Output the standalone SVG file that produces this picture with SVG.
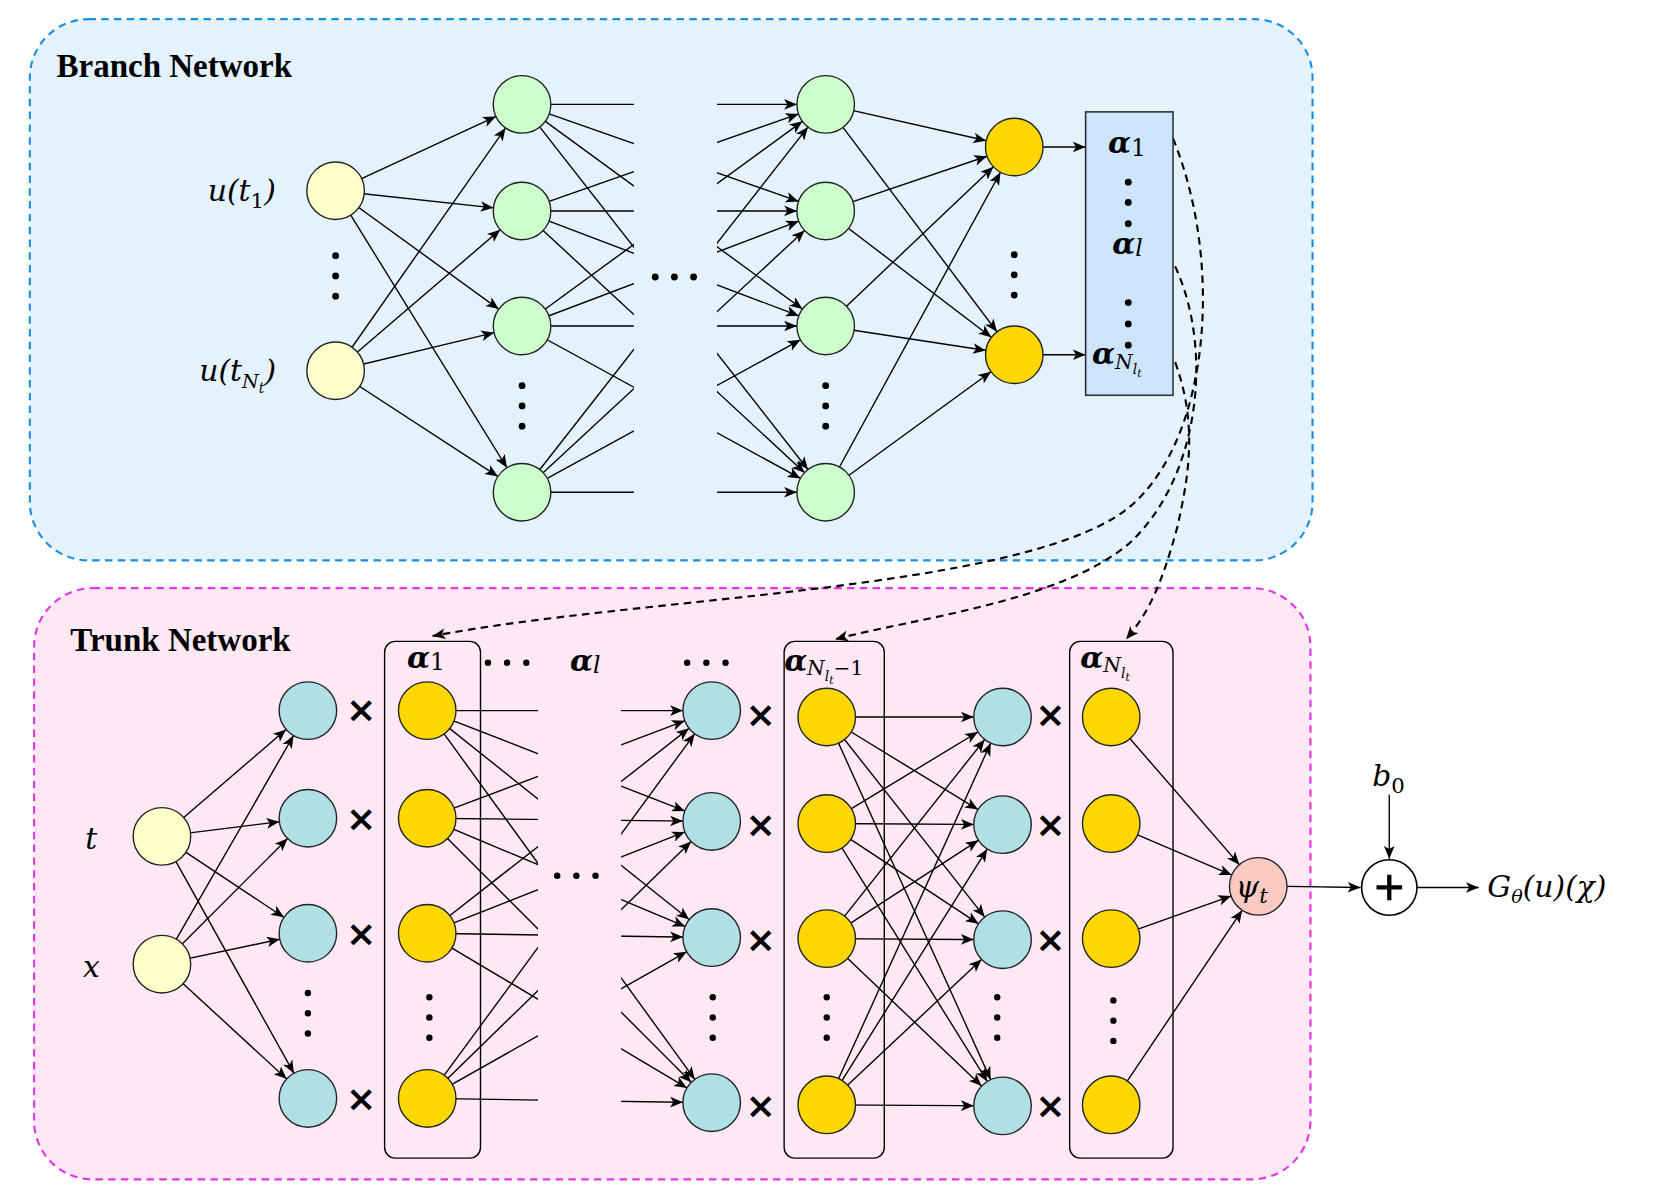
<svg xmlns="http://www.w3.org/2000/svg" width="1662" height="1194" viewBox="0 0 1662 1194">
<style>
.c{stroke:#222;stroke-width:1.3}
.e line{stroke:#000;stroke-width:1.3;marker-end:url(#ah)}
.p line{stroke:#000;stroke-width:1.3}
.y{fill:#ffffcc}.g{fill:#ccffcc}.o{fill:#ffd700}.b{fill:#b0e0e6}
.m{font-family:"DejaVu Serif","Liberation Serif",serif;font-style:italic;font-size:28px}
.a{font-family:"DejaVu Serif","Liberation Serif",serif;font-style:italic;font-weight:bold;font-size:28px}
.t{font-family:"Liberation Serif",serif;font-weight:bold;font-size:31px}
.x{font-family:"DejaVu Sans",sans-serif;font-weight:bold;font-size:34px;text-anchor:middle}
.d{fill:#000}
</style>
<defs>
<marker id="ah" markerUnits="userSpaceOnUse" markerWidth="60" markerHeight="20" orient="auto" refX="0" refY="0" viewBox="-45 -10 60 20" overflow="visible"><path d="M-39,-5 L-27,0 L-39,5 L-36,0 z" fill="#000"/></marker>
<marker id="ah0" markerUnits="userSpaceOnUse" markerWidth="20" markerHeight="20" orient="auto" refX="0" refY="0" viewBox="-15 -10 20 20" overflow="visible"><path d="M-12,-5 L0,0 L-12,5 L-9,0 z" fill="#000"/></marker>
<clipPath id="cb" clipPathUnits="userSpaceOnUse"><rect x="0" y="0" width="595" height="600"/><rect x="673" y="0" width="300" height="600"/></clipPath>
<clipPath id="ct" clipPathUnits="userSpaceOnUse"><rect x="300" y="600" width="205" height="500"/><rect x="583" y="600" width="200" height="500"/></clipPath>
</defs>
<g transform="scale(1.0654)">
<g id="branch-bg"><rect x="28" y="18" width="1204" height="508" rx="55" fill="#e3f2fd" stroke="#1a8fe3" stroke-width="2" stroke-dasharray="7,5"/><text class="t" x="53" y="72">Branch Network</text></g>
<g id="trunk-bg"><rect x="32" y="552" width="1198" height="555" rx="55" fill="#fde8f4" stroke="#e535e5" stroke-width="2" stroke-dasharray="7,5"/><text class="t" x="66" y="611">Trunk Network</text></g>
<g id="connectors">
<g class="e">
<line x1="315" y1="179" x2="490" y2="98"/><line x1="315" y1="179" x2="490" y2="198"/><line x1="315" y1="179" x2="490" y2="306"/><line x1="315" y1="179" x2="490" y2="462"/>
<line x1="315" y1="348" x2="490" y2="98"/><line x1="315" y1="348" x2="490" y2="198"/><line x1="315" y1="348" x2="490" y2="306"/><line x1="315" y1="348" x2="490" y2="462"/>
</g>
<g class="e" clip-path="url(#cb)">
<line x1="490" y1="98" x2="775" y2="98"/><line x1="490" y1="98" x2="775" y2="198"/><line x1="490" y1="98" x2="775" y2="306"/><line x1="490" y1="98" x2="775" y2="462"/>
<line x1="490" y1="198" x2="775" y2="98"/><line x1="490" y1="198" x2="775" y2="198"/><line x1="490" y1="198" x2="775" y2="306"/><line x1="490" y1="198" x2="775" y2="462"/>
<line x1="490" y1="306" x2="775" y2="98"/><line x1="490" y1="306" x2="775" y2="198"/><line x1="490" y1="306" x2="775" y2="306"/><line x1="490" y1="306" x2="775" y2="462"/>
<line x1="490" y1="462" x2="775" y2="98"/><line x1="490" y1="462" x2="775" y2="198"/><line x1="490" y1="462" x2="775" y2="306"/><line x1="490" y1="462" x2="775" y2="462"/>
</g>
<g class="e">
<line x1="775" y1="98" x2="952" y2="138"/><line x1="775" y1="198" x2="952" y2="138"/><line x1="775" y1="306" x2="952" y2="138"/><line x1="775" y1="462" x2="952" y2="138"/>
<line x1="775" y1="98" x2="952" y2="333"/><line x1="775" y1="198" x2="952" y2="333"/><line x1="775" y1="306" x2="952" y2="333"/><line x1="775" y1="462" x2="952" y2="333"/>
</g>
<line x1="979" y1="138" x2="1019" y2="138" stroke="#000" stroke-width="1.3" marker-end="url(#ah0)"/>
<line x1="979" y1="333" x2="1019" y2="333" stroke="#000" stroke-width="1.3" marker-end="url(#ah0)"/>
<g class="e">
<line x1="152" y1="785" x2="289" y2="667"/><line x1="152" y1="785" x2="289" y2="768"/><line x1="152" y1="785" x2="289" y2="876"/><line x1="152" y1="785" x2="289" y2="1031"/>
<line x1="152" y1="905" x2="289" y2="667"/><line x1="152" y1="905" x2="289" y2="768"/><line x1="152" y1="905" x2="289" y2="876"/><line x1="152" y1="905" x2="289" y2="1031"/>
</g>
<g class="e" clip-path="url(#ct)">
<line x1="401" y1="667" x2="668" y2="667"/><line x1="401" y1="667" x2="668" y2="771"/><line x1="401" y1="667" x2="668" y2="880"/><line x1="401" y1="667" x2="668" y2="1035"/>
<line x1="401" y1="768" x2="668" y2="667"/><line x1="401" y1="768" x2="668" y2="771"/><line x1="401" y1="768" x2="668" y2="880"/><line x1="401" y1="768" x2="668" y2="1035"/>
<line x1="401" y1="876" x2="668" y2="667"/><line x1="401" y1="876" x2="668" y2="771"/><line x1="401" y1="876" x2="668" y2="880"/><line x1="401" y1="876" x2="668" y2="1035"/>
<line x1="401" y1="1031" x2="668" y2="667"/><line x1="401" y1="1031" x2="668" y2="771"/><line x1="401" y1="1031" x2="668" y2="880"/><line x1="401" y1="1031" x2="668" y2="1035"/>
</g>
<g class="e">
<line x1="776" y1="673" x2="941" y2="673"/><line x1="776" y1="673" x2="941" y2="774"/><line x1="776" y1="673" x2="941" y2="882"/><line x1="776" y1="673" x2="941" y2="1038"/>
<line x1="776" y1="773" x2="941" y2="673"/><line x1="776" y1="773" x2="941" y2="774"/><line x1="776" y1="773" x2="941" y2="882"/><line x1="776" y1="773" x2="941" y2="1038"/>
<line x1="776" y1="881" x2="941" y2="673"/><line x1="776" y1="881" x2="941" y2="774"/><line x1="776" y1="881" x2="941" y2="882"/><line x1="776" y1="881" x2="941" y2="1038"/>
<line x1="776" y1="1037" x2="941" y2="673"/><line x1="776" y1="1037" x2="941" y2="774"/><line x1="776" y1="1037" x2="941" y2="882"/><line x1="776" y1="1037" x2="941" y2="1038"/>
<line x1="1043" y1="673" x2="1181" y2="832"/><line x1="1043" y1="773" x2="1181" y2="832"/><line x1="1043" y1="881" x2="1181" y2="832"/><line x1="1043" y1="1037" x2="1181" y2="832"/>
</g>
<line x1="1208" y1="832" x2="1277" y2="833" stroke="#000" stroke-width="1.3" marker-end="url(#ah0)"/>
<line x1="1330" y1="833" x2="1388" y2="833" stroke="#000" stroke-width="1.3" marker-end="url(#ah0)"/>
<line x1="1304" y1="746" x2="1304" y2="806" stroke="#000" stroke-width="1.3" marker-end="url(#ah0)"/>
<g fill="none" stroke="#000" stroke-width="2" stroke-dasharray="7,5" marker-end="url(#ah0)">
<path d="M1101,130 C1150,250 1135,420 1055,480 C950,555 600,560 406,597"/>
<path d="M1103,250 C1140,330 1125,450 1060,510 C995,565 860,580 784,600"/>
<path d="M1103,340 C1125,400 1115,450 1105,495 C1090,550 1078,575 1057,600"/>
</g>
</g>
<g id="branch-nodes">
<g id="u1"><circle class="c y" cx="315" cy="179" r="27"/><text class="m" x="195" y="189">u(t<tspan font-size="20" font-style="normal" dy="6">1</tspan><tspan dy="-6">)</tspan></text></g>
<g id="uN"><circle class="c y" cx="315" cy="348" r="27"/><text class="m" x="187" y="358">u(t<tspan font-size="18" dy="6">N</tspan><tspan font-size="13" dy="5">t</tspan><tspan dy="-11">)</tspan></text></g>
<g id="b1"><circle class="c g" cx="490" cy="98" r="27"/><circle class="c g" cx="490" cy="198" r="27"/><circle class="c g" cx="490" cy="306" r="27"/><circle class="c g" cx="490" cy="462" r="27"/></g>
<g id="b2"><circle class="c g" cx="775" cy="98" r="27"/><circle class="c g" cx="775" cy="198" r="27"/><circle class="c g" cx="775" cy="306" r="27"/><circle class="c g" cx="775" cy="462" r="27"/></g>
<g id="bo"><circle class="c o" cx="952" cy="138" r="27"/><circle class="c o" cx="952" cy="333" r="27"/></g>
<g id="alpha-box"><rect x="1019" y="105" width="82" height="266" fill="#cce5fc" stroke="#333" stroke-width="1.5"/>
<text class="a" x="1040" y="144">α<tspan font-weight="normal" font-style="normal" font-size="22" dy="2">1</tspan></text>
<text class="a" x="1044" y="238">α<tspan font-weight="normal" font-size="22" dy="2">l</tspan></text>
<text class="a" x="1025" y="342">α<tspan font-weight="normal" font-size="19" dy="4">N</tspan><tspan font-weight="normal" font-size="13" dy="5">l</tspan><tspan font-weight="normal" font-size="10" dy="3">t</tspan></text>
<g class="d"><circle cx="1059" cy="171" r="3.2"/><circle cx="1059" cy="190" r="3.2"/><circle cx="1059" cy="210" r="3.2"/><circle cx="1059" cy="284" r="3.2"/><circle cx="1059" cy="304" r="3.2"/><circle cx="1059" cy="324" r="3.2"/></g></g>
<g class="d"><circle cx="315" cy="240" r="3.2"/><circle cx="315" cy="259" r="3.2"/><circle cx="315" cy="278" r="3.2"/>
<circle cx="490" cy="362" r="3.2"/><circle cx="490" cy="381" r="3.2"/><circle cx="490" cy="400" r="3.2"/>
<circle cx="775" cy="362" r="3.2"/><circle cx="775" cy="381" r="3.2"/><circle cx="775" cy="400" r="3.2"/>
<circle cx="952" cy="239" r="3.2"/><circle cx="952" cy="258" r="3.2"/><circle cx="952" cy="277" r="3.2"/>
<circle cx="615" cy="260" r="3.2"/><circle cx="633" cy="260" r="3.2"/><circle cx="651" cy="260" r="3.2"/></g>
</g>
<g id="trunk-nodes">
<g id="tin"><circle class="c y" cx="152" cy="785" r="27"/><circle class="c y" cx="152" cy="905" r="27"/><text class="m" x="80" y="797">t</text><text class="m" x="78" y="917">x</text></g>
<g id="boxes" fill="none" stroke="#000" stroke-width="1.3"><rect x="361" y="602" width="90" height="485" rx="10"/><rect x="736" y="602" width="94" height="485" rx="10"/><rect x="1004" y="602" width="97" height="485" rx="10"/></g>
<g id="A"><circle class="c b" cx="289" cy="667" r="27"/><circle class="c b" cx="289" cy="768" r="27"/><circle class="c b" cx="289" cy="876" r="27"/><circle class="c b" cx="289" cy="1031" r="27"/></g>
<g id="OA"><circle class="c o" cx="401" cy="667" r="27"/><circle class="c o" cx="401" cy="768" r="27"/><circle class="c o" cx="401" cy="876" r="27"/><circle class="c o" cx="401" cy="1031" r="27"/></g>
<g id="B"><circle class="c b" cx="668" cy="667" r="27"/><circle class="c b" cx="668" cy="771" r="27"/><circle class="c b" cx="668" cy="880" r="27"/><circle class="c b" cx="668" cy="1035" r="27"/></g>
<g id="OB"><circle class="c o" cx="776" cy="673" r="27"/><circle class="c o" cx="776" cy="773" r="27"/><circle class="c o" cx="776" cy="881" r="27"/><circle class="c o" cx="776" cy="1037" r="27"/></g>
<g id="C"><circle class="c b" cx="941" cy="673" r="27"/><circle class="c b" cx="941" cy="774" r="27"/><circle class="c b" cx="941" cy="882" r="27"/><circle class="c b" cx="941" cy="1038" r="27"/></g>
<g id="OC"><circle class="c o" cx="1043" cy="673" r="27"/><circle class="c o" cx="1043" cy="773" r="27"/><circle class="c o" cx="1043" cy="881" r="27"/><circle class="c o" cx="1043" cy="1037" r="27"/></g>
<g id="times" class="x"><text x="339" y="678">×</text><text x="339" y="780">×</text><text x="339" y="888">×</text><text x="339" y="1043">×</text>
<text x="714" y="682">×</text><text x="714" y="786">×</text><text x="714" y="894">×</text><text x="714" y="1049">×</text>
<text x="986" y="682">×</text><text x="986" y="786">×</text><text x="986" y="894">×</text><text x="986" y="1049">×</text></g>
<text class="a" x="382" y="627">α<tspan font-weight="normal" font-style="normal" font-size="22" dy="2">1</tspan></text>
<text class="a" x="535" y="630">α<tspan font-weight="normal" font-size="22" dy="2">l</tspan></text>
<text class="a" x="736" y="630">α<tspan font-weight="normal" font-size="19" dy="4">N</tspan><tspan font-weight="normal" font-size="13" dy="5">l</tspan><tspan font-weight="normal" font-size="10" dy="3">t</tspan><tspan font-weight="normal" font-style="normal" font-size="19" dy="-8">−1</tspan></text>
<text class="a" x="1014" y="627">α<tspan font-weight="normal" font-size="19" dy="4">N</tspan><tspan font-weight="normal" font-size="13" dy="5">l</tspan><tspan font-weight="normal" font-size="10" dy="3">t</tspan></text>
<g class="d"><circle cx="458" cy="622" r="3"/><circle cx="476" cy="622" r="3"/><circle cx="494" cy="622" r="3"/>
<circle cx="645" cy="622" r="3"/><circle cx="663" cy="622" r="3"/><circle cx="681" cy="622" r="3"/>
<circle cx="523" cy="822" r="3"/><circle cx="541" cy="822" r="3"/><circle cx="559" cy="822" r="3"/>
<circle cx="289" cy="932" r="3"/><circle cx="289" cy="951" r="3"/><circle cx="289" cy="970" r="3"/>
<circle cx="403" cy="936" r="3"/><circle cx="403" cy="955" r="3"/><circle cx="403" cy="974" r="3"/>
<circle cx="669" cy="936" r="3"/><circle cx="669" cy="955" r="3"/><circle cx="669" cy="974" r="3"/>
<circle cx="776" cy="936" r="3"/><circle cx="776" cy="955" r="3"/><circle cx="776" cy="974" r="3"/>
<circle cx="936" cy="936" r="3"/><circle cx="936" cy="955" r="3"/><circle cx="936" cy="974" r="3"/>
<circle cx="1045" cy="939" r="3"/><circle cx="1045" cy="958" r="3"/><circle cx="1045" cy="977" r="3"/></g>
<g id="psi"><circle cx="1181" cy="832" r="27" fill="#f9c9c2" stroke="#222" stroke-width="1.3"/><text class="m" x="1160" y="842">ψ<tspan font-size="20" dy="6">t</tspan></text></g>
<g id="plus"><circle cx="1304" cy="833" r="26" fill="#fff" stroke="#000" stroke-width="1.5"/><path d="M1292,833 H1316 M1304,821 V845" stroke="#000" stroke-width="4"/></g>
<text class="m" x="1288" y="738">b<tspan font-style="normal" font-size="20" dy="6">0</tspan></text>
<text class="m" x="1396" y="842">G<tspan font-size="18" dy="6">θ</tspan><tspan dy="-6">(u)(χ)</tspan></text>
</g>
</g>
</svg>
